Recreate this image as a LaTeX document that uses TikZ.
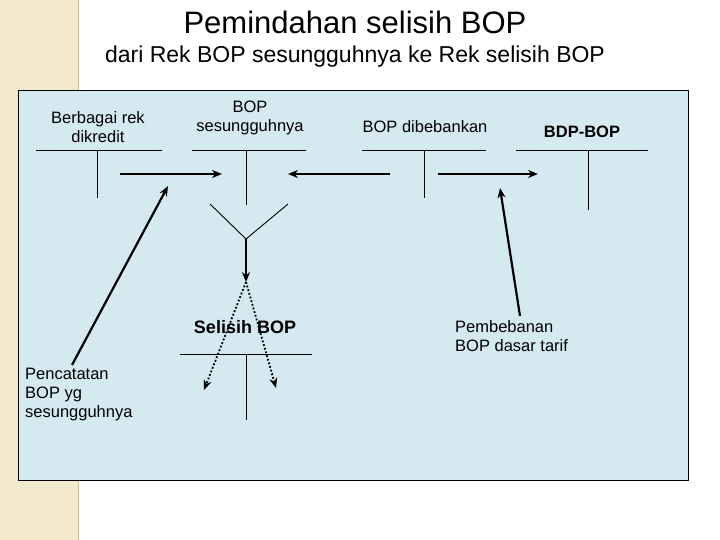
\documentclass[tikz,border=0pt]{standalone}
\usepackage{fontspec}
\setmainfont{Liberation Sans}
\usetikzlibrary{arrows.meta}
\definecolor{panel}{RGB}{213,233,241}
\definecolor{strip}{RGB}{242,232,205}
\tikzset{
  lbl/.style={align=center, font=\fontsize{16.5}{19}\selectfont},
  tline/.style={line width=0.9pt},
  flow/.style={line width=2.2pt, -{Stealth[length=10, width=8]}},
  dots/.style={line width=1.8pt, dotted, -{Stealth[length=10, width=8]}}
}
\begin{document}
\begin{tikzpicture}[x=1pt,y=-1pt]
\useasboundingbox (0,0) rectangle (720,540);

% page background
\fill[strip] (0,0) rectangle (78,540);
\draw[strip!80!black, line width=0.4pt] (78,0) -- (78,540);
\node[font=\fontsize{31}{36}\selectfont] (title) at (355,22) {Pemindahan selisih BOP};
\node[font=\fontsize{23}{27}\selectfont] (sub) at (355,57) {dari Rek BOP sesungguhnya ke Rek selisih BOP};
\draw[fill=panel, line width=0.9pt] (18,90) rectangle (688,480);

% T-accounts
\node[lbl] (berbagai) at (98,127) {Berbagai rek\\dikredit};
\draw[tline] (36,150) -- (162,150) (97,150) -- (97,198);

\node[lbl] (bops) at (250,118) {BOP\\sesungguhnya};
\draw[tline] (192,150) -- (306,150) (246,150) -- (246,205);

\node[lbl] (bopd) at (425,127) {BOP dibebankan};
\draw[tline] (362,150) -- (486,150) (424,150) -- (424,198);

\node[lbl, font=\bfseries\fontsize{16.5}{19}\selectfont] (bdp) at (582,132) {BDP-BOP};
\draw[tline] (516,150) -- (648,150) (588,150) -- (588,210);

\node[lbl, font=\bfseries\fontsize{18}{21}\selectfont] (selisih) at (245,327) {Selisih BOP};
\draw[tline] (180,354) -- (312,354) (246,354) -- (246,420);

% notes
\node[lbl, align=left, anchor=north west, inner sep=0pt] (catat) at (25,368) {Pencatatan\\BOP yg\\sesungguhnya};
\node[lbl, align=left, anchor=north west, inner sep=0pt] (beban) at (455,320) {Pembebanan\\BOP dasar tarif};

% flows
\coordinate (a1) at (120,174); \coordinate (a2) at (222,174);
\coordinate (b1) at (390,174); \coordinate (b2) at (288,174);
\coordinate (c1) at (438,174); \coordinate (c2) at (538,174);
\coordinate (yl) at (210,204); \coordinate (yr) at (288,204);
\coordinate (yc) at (246,239); \coordinate (yd) at (246,282);
\draw[flow] (a1) -- (a2);
\draw[flow] (b1) -- (b2);
\draw[flow] (c1) -- (c2);
\draw[tline] (yl) -- (yc) -- (yr);
\draw[flow] (yc) -- (yd);
\draw[dots] (yd) -- (204,390);
\draw[dots] (yd) -- (276,388);
\draw[flow] (72,365) -- (168,186);
\draw[flow] (520,316) -- (500,188);

\end{tikzpicture}
\end{document}
